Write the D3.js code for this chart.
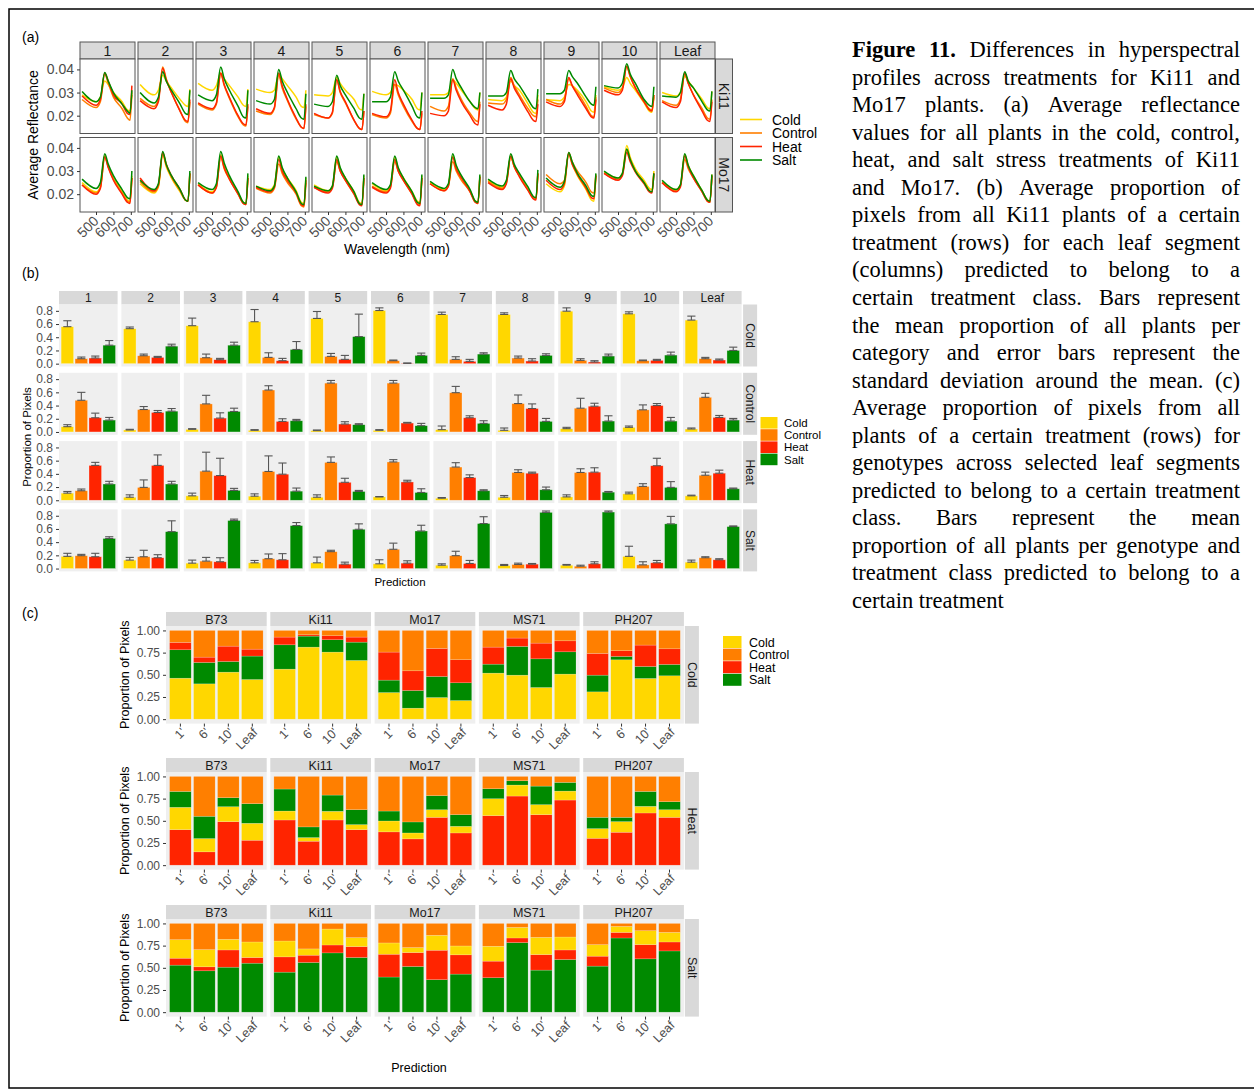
<!DOCTYPE html>
<html>
<head>
<meta charset="utf-8">
<script src="https://cdn.jsdelivr.net/npm/d3@7"></script>
<style>
  body { margin: 0; background: #fff; }
  svg { display: block; font-family: "Liberation Sans", Arial, Helvetica, sans-serif; }
</style>
</head>
<body>
<svg id="fig" width="1254" height="1090"></svg>
<script>
// ---- shared categories ----
const treatments = ['Cold', 'Control', 'Heat', 'Salt'];
const treatColors = { Cold: '#ffd700', Control: '#ff7f00', Heat: '#ff2400', Salt: '#008a00' };
const segmentsA = ['1', '2', '3', '4', '5', '6', '7', '8', '9', '10', 'Leaf'];
const genotypesA = ['Ki11', 'Mo17'];

// ---- (a) average reflectance, one row per segment, values at these wavelengths ----
const wavelengths = [420, 500, 525, 550, 570, 600, 650, 680, 695, 706];
const wlTicks = [500, 600, 700];
const reflTicks = [0.02, 0.03, 0.04];

const reflKi11Cold = [
  [0.029, 0.026, 0.028, 0.035, 0.0335, 0.030, 0.026, 0.0225, 0.022, 0.030],
  [0.0335, 0.029, 0.031, 0.0375, 0.035, 0.032, 0.027, 0.0245, 0.024, 0.0315],
  [0.034, 0.031, 0.033, 0.0385, 0.036, 0.033, 0.028, 0.0245, 0.024, 0.0315],
  [0.0315, 0.030, 0.031, 0.038, 0.036, 0.033, 0.028, 0.024, 0.0235, 0.031],
  [0.029, 0.0285, 0.030, 0.0365, 0.034, 0.031, 0.027, 0.023, 0.0225, 0.0295],
  [0.0305, 0.029, 0.030, 0.0335, 0.033, 0.031, 0.027, 0.023, 0.0225, 0.030],
  [0.029, 0.029, 0.030, 0.0355, 0.034, 0.031, 0.026, 0.023, 0.0225, 0.030],
  [0.027, 0.0265, 0.028, 0.035, 0.033, 0.031, 0.025, 0.0215, 0.021, 0.029],
  [0.027, 0.0265, 0.028, 0.0335, 0.033, 0.031, 0.026, 0.022, 0.0215, 0.029],
  [0.0325, 0.031, 0.032, 0.0365, 0.034, 0.031, 0.0255, 0.022, 0.0215, 0.028],
  [0.030, 0.0285, 0.030, 0.037, 0.035, 0.032, 0.027, 0.0235, 0.023, 0.0305]
];
const reflKi11Control = [
  [0.027, 0.0235, 0.026, 0.038, 0.034, 0.028, 0.023, 0.019, 0.018, 0.029],
  [0.0275, 0.024, 0.027, 0.041, 0.036, 0.030, 0.022, 0.0175, 0.017, 0.026],
  [0.025, 0.0225, 0.025, 0.038, 0.033, 0.0275, 0.0195, 0.016, 0.0155, 0.024],
  [0.022, 0.0205, 0.023, 0.0375, 0.032, 0.0265, 0.0185, 0.015, 0.0145, 0.024],
  [0.0205, 0.019, 0.021, 0.0355, 0.030, 0.0255, 0.018, 0.0145, 0.014, 0.022],
  [0.0205, 0.019, 0.021, 0.0335, 0.029, 0.024, 0.0175, 0.0145, 0.014, 0.021],
  [0.024, 0.022, 0.024, 0.036, 0.032, 0.027, 0.021, 0.018, 0.0175, 0.026],
  [0.0255, 0.025, 0.027, 0.0365, 0.033, 0.029, 0.023, 0.020, 0.0195, 0.027],
  [0.027, 0.025, 0.027, 0.036, 0.033, 0.030, 0.024, 0.020, 0.0195, 0.028],
  [0.032, 0.030, 0.032, 0.041, 0.037, 0.032, 0.026, 0.023, 0.0225, 0.029],
  [0.0265, 0.0245, 0.027, 0.038, 0.034, 0.029, 0.023, 0.019, 0.0185, 0.027]
];
const reflKi11Heat = [
  [0.0285, 0.0245, 0.027, 0.0385, 0.035, 0.029, 0.025, 0.021, 0.0205, 0.033],
  [0.0265, 0.023, 0.026, 0.0405, 0.0355, 0.030, 0.022, 0.018, 0.0175, 0.027],
  [0.0255, 0.023, 0.0255, 0.0385, 0.0335, 0.028, 0.020, 0.0165, 0.016, 0.025],
  [0.023, 0.021, 0.0235, 0.0385, 0.033, 0.027, 0.019, 0.015, 0.0145, 0.025],
  [0.021, 0.019, 0.0215, 0.0355, 0.0305, 0.026, 0.018, 0.0145, 0.014, 0.022],
  [0.021, 0.0195, 0.022, 0.0355, 0.030, 0.025, 0.018, 0.0145, 0.014, 0.022],
  [0.021, 0.020, 0.022, 0.0355, 0.031, 0.026, 0.020, 0.0165, 0.016, 0.025],
  [0.0245, 0.0225, 0.025, 0.036, 0.032, 0.028, 0.0215, 0.018, 0.0175, 0.025],
  [0.026, 0.024, 0.026, 0.0365, 0.033, 0.029, 0.023, 0.0195, 0.019, 0.027],
  [0.031, 0.029, 0.031, 0.0415, 0.037, 0.032, 0.026, 0.0225, 0.022, 0.029],
  [0.026, 0.0235, 0.026, 0.0385, 0.034, 0.029, 0.022, 0.018, 0.0175, 0.026]
];
const reflKi11Salt = [
  [0.0305, 0.026, 0.028, 0.0387, 0.035, 0.030, 0.025, 0.022, 0.021, 0.031],
  [0.030, 0.0255, 0.028, 0.039, 0.035, 0.031, 0.025, 0.021, 0.0205, 0.031],
  [0.029, 0.0265, 0.029, 0.041, 0.036, 0.031, 0.024, 0.0195, 0.019, 0.031],
  [0.0265, 0.025, 0.027, 0.040, 0.035, 0.030, 0.023, 0.019, 0.0185, 0.0295],
  [0.025, 0.024, 0.026, 0.0375, 0.033, 0.029, 0.023, 0.019, 0.0185, 0.0295],
  [0.026, 0.026, 0.028, 0.039, 0.035, 0.031, 0.024, 0.0195, 0.019, 0.030],
  [0.0275, 0.0275, 0.029, 0.040, 0.036, 0.032, 0.026, 0.0235, 0.023, 0.030],
  [0.0285, 0.0285, 0.030, 0.0395, 0.036, 0.033, 0.027, 0.0235, 0.023, 0.0315],
  [0.0295, 0.0295, 0.031, 0.0395, 0.037, 0.034, 0.028, 0.025, 0.0245, 0.0325],
  [0.033, 0.032, 0.034, 0.0425, 0.038, 0.034, 0.027, 0.0245, 0.024, 0.0325],
  [0.0285, 0.028, 0.030, 0.039, 0.035, 0.032, 0.026, 0.0225, 0.022, 0.0305]
];
const reflMo17Cold = [
  [0.025, 0.021, 0.023, 0.0365, 0.032, 0.027, 0.021, 0.0175, 0.017, 0.028],
  [0.0245, 0.0205, 0.023, 0.037, 0.032, 0.027, 0.021, 0.0175, 0.017, 0.029],
  [0.0245, 0.021, 0.0235, 0.037, 0.032, 0.027, 0.0205, 0.0165, 0.016, 0.028],
  [0.0235, 0.022, 0.024, 0.036, 0.031, 0.027, 0.0215, 0.0165, 0.016, 0.027],
  [0.024, 0.0215, 0.0235, 0.036, 0.031, 0.027, 0.021, 0.0165, 0.016, 0.028],
  [0.0245, 0.0215, 0.0235, 0.036, 0.031, 0.027, 0.021, 0.017, 0.0165, 0.028],
  [0.025, 0.022, 0.024, 0.0365, 0.032, 0.0275, 0.0215, 0.017, 0.0165, 0.028],
  [0.026, 0.023, 0.0255, 0.0365, 0.032, 0.028, 0.022, 0.0185, 0.018, 0.029],
  [0.0245, 0.021, 0.0235, 0.0375, 0.033, 0.028, 0.022, 0.0175, 0.017, 0.028],
  [0.0295, 0.027, 0.029, 0.041, 0.036, 0.031, 0.026, 0.0225, 0.022, 0.030],
  [0.0255, 0.022, 0.024, 0.037, 0.0325, 0.028, 0.0215, 0.0175, 0.017, 0.0285]
];
const reflMo17Control = [
  [0.024, 0.0205, 0.023, 0.0365, 0.032, 0.0265, 0.0205, 0.017, 0.0165, 0.027],
  [0.0255, 0.021, 0.0235, 0.0375, 0.0325, 0.0275, 0.0215, 0.0175, 0.017, 0.029],
  [0.024, 0.0205, 0.023, 0.036, 0.031, 0.0265, 0.020, 0.016, 0.0155, 0.027],
  [0.0225, 0.0205, 0.0225, 0.033, 0.029, 0.025, 0.020, 0.015, 0.0145, 0.025],
  [0.023, 0.021, 0.023, 0.034, 0.030, 0.026, 0.020, 0.016, 0.0155, 0.027],
  [0.0235, 0.021, 0.023, 0.034, 0.030, 0.026, 0.020, 0.016, 0.0155, 0.027],
  [0.0245, 0.0215, 0.0235, 0.034, 0.030, 0.026, 0.021, 0.0165, 0.016, 0.0275],
  [0.0255, 0.0225, 0.025, 0.036, 0.032, 0.028, 0.022, 0.0185, 0.018, 0.029],
  [0.0285, 0.0245, 0.026, 0.038, 0.034, 0.030, 0.025, 0.021, 0.0205, 0.0285],
  [0.029, 0.0265, 0.0285, 0.039, 0.035, 0.030, 0.025, 0.0215, 0.021, 0.029],
  [0.025, 0.0215, 0.0235, 0.035, 0.031, 0.027, 0.021, 0.017, 0.0165, 0.028]
];
const reflMo17Heat = [
  [0.024, 0.020, 0.0225, 0.036, 0.0315, 0.026, 0.020, 0.0165, 0.016, 0.027],
  [0.027, 0.0215, 0.024, 0.038, 0.033, 0.028, 0.022, 0.0175, 0.017, 0.029],
  [0.024, 0.0205, 0.023, 0.0365, 0.0315, 0.0265, 0.020, 0.016, 0.0155, 0.027],
  [0.023, 0.021, 0.023, 0.035, 0.030, 0.026, 0.0205, 0.0155, 0.015, 0.026],
  [0.023, 0.0205, 0.0225, 0.035, 0.030, 0.026, 0.020, 0.0155, 0.015, 0.027],
  [0.023, 0.0205, 0.0225, 0.035, 0.030, 0.026, 0.020, 0.0155, 0.015, 0.027],
  [0.0245, 0.0215, 0.0235, 0.036, 0.031, 0.027, 0.021, 0.0165, 0.016, 0.0275],
  [0.025, 0.022, 0.0245, 0.0365, 0.032, 0.0275, 0.0215, 0.018, 0.0175, 0.029],
  [0.026, 0.022, 0.0245, 0.0375, 0.033, 0.0285, 0.0225, 0.0185, 0.018, 0.028],
  [0.029, 0.026, 0.028, 0.038, 0.034, 0.0295, 0.0245, 0.021, 0.0205, 0.029],
  [0.025, 0.021, 0.023, 0.0365, 0.032, 0.027, 0.021, 0.017, 0.0165, 0.028]
];
const reflMo17Salt = [
  [0.0265, 0.0225, 0.025, 0.0375, 0.033, 0.028, 0.022, 0.0185, 0.018, 0.030],
  [0.026, 0.022, 0.0245, 0.0385, 0.033, 0.028, 0.022, 0.0175, 0.017, 0.030],
  [0.025, 0.022, 0.0245, 0.0385, 0.0335, 0.028, 0.021, 0.0165, 0.016, 0.029],
  [0.0235, 0.0215, 0.0235, 0.0365, 0.0315, 0.027, 0.021, 0.016, 0.0155, 0.0275],
  [0.0235, 0.0215, 0.0235, 0.0365, 0.0315, 0.027, 0.021, 0.016, 0.0155, 0.0285],
  [0.025, 0.022, 0.024, 0.0365, 0.0315, 0.027, 0.021, 0.0165, 0.016, 0.0285],
  [0.0255, 0.0225, 0.0245, 0.0375, 0.0325, 0.028, 0.022, 0.017, 0.0165, 0.0285],
  [0.0265, 0.0235, 0.026, 0.0375, 0.033, 0.029, 0.023, 0.019, 0.0185, 0.0305],
  [0.027, 0.023, 0.0255, 0.038, 0.034, 0.029, 0.0235, 0.0195, 0.019, 0.029],
  [0.030, 0.027, 0.029, 0.0395, 0.035, 0.030, 0.025, 0.0215, 0.021, 0.029],
  [0.026, 0.022, 0.024, 0.0375, 0.0325, 0.028, 0.0215, 0.0175, 0.017, 0.0285]
];

// ---- (b) Ki11 mean proportion predicted [Cold, Control, Heat, Salt] per segment ----
const propTicksB = [0, 0.2, 0.4, 0.6, 0.8];
const predMeanCold = [
  [0.56, 0.075, 0.085, 0.28], [0.53, 0.12, 0.095, 0.265], [0.575, 0.09, 0.06, 0.28],
  [0.635, 0.095, 0.045, 0.215], [0.685, 0.11, 0.065, 0.41], [0.805, 0.045, 0.005, 0.125],
  [0.745, 0.065, 0.035, 0.145], [0.745, 0.085, 0.04, 0.125], [0.795, 0.05, 0.025, 0.115],
  [0.755, 0.045, 0.05, 0.13], [0.66, 0.075, 0.055, 0.20]
];
const predSdCold = [
  [0.09, 0.025, 0.03, 0.07], [0.025, 0.025, 0.015, 0.03], [0.115, 0.055, 0.02, 0.045],
  [0.185, 0.07, 0.035, 0.12], [0.105, 0.045, 0.06, 0.34], [0.04, 0.01, 0.005, 0.035],
  [0.035, 0.04, 0.03, 0.02], [0.025, 0.03, 0.035, 0.025], [0.05, 0.025, 0.02, 0.03],
  [0.03, 0.01, 0.015, 0.045], [0.06, 0.02, 0.015, 0.05]
];
const predMeanControl = [
  [0.08, 0.48, 0.215, 0.18], [0.03, 0.34, 0.295, 0.315], [0.04, 0.425, 0.21, 0.31],
  [0.025, 0.635, 0.16, 0.17], [0.02, 0.74, 0.12, 0.11], [0.025, 0.74, 0.135, 0.095],
  [0.035, 0.595, 0.215, 0.13], [0.025, 0.43, 0.355, 0.16], [0.05, 0.36, 0.39, 0.165],
  [0.07, 0.335, 0.40, 0.165], [0.045, 0.525, 0.22, 0.18]
];
const predSdControl = [
  [0.03, 0.12, 0.07, 0.04], [0.01, 0.045, 0.03, 0.04], [0.01, 0.13, 0.08, 0.05],
  [0.01, 0.065, 0.04, 0.02], [0.01, 0.04, 0.035, 0.015], [0.01, 0.04, 0.01, 0.035],
  [0.055, 0.095, 0.03, 0.04], [0.035, 0.13, 0.07, 0.045], [0.02, 0.15, 0.045, 0.08],
  [0.02, 0.075, 0.03, 0.055], [0.015, 0.06, 0.03, 0.025]
];
const predMeanHeat = [
  [0.108, 0.144, 0.528, 0.246], [0.046, 0.195, 0.528, 0.246], [0.067, 0.441, 0.374, 0.149],
  [0.062, 0.436, 0.395, 0.138], [0.046, 0.574, 0.272, 0.133], [0.051, 0.58, 0.277, 0.118],
  [0.031, 0.503, 0.344, 0.144], [0.046, 0.421, 0.41, 0.159], [0.051, 0.421, 0.426, 0.123],
  [0.097, 0.21, 0.523, 0.195], [0.067, 0.379, 0.41, 0.174]
];
const predSdHeat = [
  [0.025, 0.026, 0.046, 0.041], [0.036, 0.113, 0.159, 0.041], [0.041, 0.287, 0.262, 0.031],
  [0.035, 0.236, 0.169, 0.047], [0.036, 0.082, 0.061, 0.016], [0.005, 0.035, 0.026, 0.056],
  [0.01, 0.066, 0.041, 0.015], [0.026, 0.041, 0.016, 0.041], [0.031, 0.056, 0.066, 0.01],
  [0.026, 0.041, 0.113, 0.087], [0.01, 0.047, 0.046, 0.011]
];
const predMeanSalt = [
  [0.185, 0.195, 0.179, 0.456], [0.128, 0.179, 0.164, 0.559], [0.082, 0.113, 0.103, 0.728],
  [0.087, 0.149, 0.133, 0.651], [0.087, 0.256, 0.067, 0.595], [0.072, 0.292, 0.082, 0.569],
  [0.051, 0.195, 0.077, 0.682], [0.046, 0.062, 0.067, 0.851], [0.051, 0.036, 0.072, 0.856],
  [0.185, 0.056, 0.087, 0.677], [0.097, 0.164, 0.133, 0.636]
];
const predSdSalt = [
  [0.046, 0.02, 0.052, 0.026], [0.041, 0.098, 0.046, 0.164], [0.046, 0.056, 0.061, 0.021],
  [0.036, 0.072, 0.093, 0.046], [0.087, 0.021, 0.03, 0.082], [0.061, 0.093, 0.036, 0.087],
  [0.021, 0.067, 0.046, 0.103], [0.016, 0.02, 0.01, 0.021], [0.011, 0.015, 0.031, 0.016],
  [0.153, 0.047, 0.036, 0.113], [0.031, 0.015, 0.016, 0.01]
];

// ---- (c) stacked proportions per genotype, 4 segments each, in stack order ----
const genotypesC = ['B73', 'Ki11', 'Mo17', 'MS71', 'PH207'];
const segmentsC = ["1'", "6'", "10'", 'Leaf'];
const propTicksC = [0, 0.25, 0.5, 0.75, 1];
const stackOrderCold = ['Cold', 'Salt', 'Heat', 'Control'];
const stackOrderHeat = ['Heat', 'Cold', 'Salt', 'Control'];
const stackOrderSalt = ['Salt', 'Heat', 'Cold', 'Control'];
const propCold = [
  [[0.462, 0.32, 0.083, 0.135], [0.398, 0.241, 0.06, 0.301], [0.53, 0.12, 0.173, 0.177], [0.447, 0.264, 0.078, 0.211]],
  [[0.564, 0.274, 0.087, 0.075], [0.812, 0.124, 0.015, 0.049], [0.756, 0.139, 0.045, 0.06], [0.662, 0.206, 0.057, 0.075]],
  [[0.30, 0.14, 0.316, 0.244], [0.124, 0.199, 0.222, 0.455], [0.244, 0.237, 0.316, 0.203], [0.21, 0.20, 0.26, 0.33]],
  [[0.519, 0.101, 0.192, 0.188], [0.496, 0.324, 0.094, 0.086], [0.357, 0.323, 0.177, 0.143], [0.508, 0.251, 0.124, 0.117]],
  [[0.308, 0.188, 0.245, 0.259], [0.669, 0.038, 0.064, 0.229], [0.459, 0.135, 0.241, 0.165], [0.489, 0.128, 0.176, 0.207]]
];
const propHeat = [
  [[0.40, 0.252, 0.179, 0.169], [0.15, 0.15, 0.251, 0.449], [0.49, 0.169, 0.101, 0.24], [0.281, 0.191, 0.221, 0.307]],
  [[0.509, 0.101, 0.248, 0.142], [0.27, 0.041, 0.12, 0.569], [0.509, 0.098, 0.183, 0.21], [0.40, 0.057, 0.168, 0.375]],
  [[0.375, 0.123, 0.112, 0.39], [0.296, 0.067, 0.124, 0.513], [0.539, 0.086, 0.158, 0.217], [0.363, 0.075, 0.131, 0.431]],
  [[0.558, 0.191, 0.112, 0.139], [0.779, 0.124, 0.048, 0.049], [0.569, 0.113, 0.209, 0.109], [0.734, 0.101, 0.098, 0.067]],
  [[0.303, 0.109, 0.127, 0.461], [0.371, 0.12, 0.048, 0.461], [0.588, 0.075, 0.168, 0.169], [0.539, 0.086, 0.09, 0.285]]
];
const propSalt = [
  [[0.53, 0.078, 0.209, 0.183], [0.466, 0.045, 0.194, 0.295], [0.507, 0.194, 0.12, 0.179], [0.552, 0.064, 0.175, 0.209]],
  [[0.451, 0.172, 0.179, 0.198], [0.56, 0.082, 0.071, 0.287], [0.668, 0.089, 0.18, 0.063], [0.616, 0.123, 0.101, 0.16]],
  [[0.396, 0.257, 0.127, 0.22], [0.515, 0.157, 0.056, 0.272], [0.366, 0.332, 0.168, 0.134], [0.429, 0.217, 0.10, 0.254]],
  [[0.388, 0.187, 0.168, 0.257], [0.784, 0.052, 0.119, 0.045], [0.474, 0.175, 0.194, 0.157], [0.593, 0.108, 0.146, 0.153]],
  [[0.519, 0.112, 0.13, 0.239], [0.836, 0.063, 0.067, 0.034], [0.601, 0.16, 0.157, 0.082], [0.69, 0.101, 0.108, 0.101]]
];

// ---- caption ----
const captionLines = [
  'Figure 11. Differences in hyperspectral',
  'profiles across treatments for Ki11 and',
  'Mo17 plants. (a) Average reflectance',
  'values for all plants in the cold, control,',
  'heat, and salt stress treatments of Ki11',
  'and Mo17. (b) Average proportion of',
  'pixels from all Ki11 plants of a certain',
  'treatment (rows) for each leaf segment',
  '(columns) predicted to belong to a',
  'certain treatment class. Bars represent',
  'the mean proportion of all plants per',
  'category and error bars represent the',
  'standard deviation around the mean. (c)',
  'Average proportion of pixels from all',
  'plants of a certain treatment (rows) for',
  'genotypes across selected leaf segments',
  'predicted to belong to a certain treatment',
  'class. Bars represent the mean',
  'proportion of all plants per genotype and',
  'treatment class predicted to belong to a',
  'certain treatment'
];

const svg = d3.select('#fig');
const STRIP_FILL = '#d9d9d9';
const PANEL_FILL = '#efefef';
const TICK_TEXT = '#4d4d4d';

svg.append('rect')
  .attr('x', 9).attr('y', 9).attr('width', 1300).attr('height', 1079)
  .attr('fill', 'none').attr('stroke', '#000').attr('stroke-width', 1.5);

function label(x, y, text, size, opts = {}) {
  const t = svg.append('text')
    .attr('x', x).attr('y', y)
    .attr('font-size', size)
    .attr('fill', opts.fill || '#000')
    .attr('text-anchor', opts.anchor || 'start')
    .text(text);
  if (opts.rotate) t.attr('transform', `rotate(${opts.rotate},${x},${y})`);
  if (opts.baseline) t.attr('dominant-baseline', opts.baseline);
  return t;
}

// ======================= (a) =======================
function drawPanelA() {
  const left = 80, colStep = 58, pw = 55, ph = 74.5;
  const rowTop = [59, 137.5];
  const stripTop = 42, stripH = 17;
  const refl = {
    Ki11: { Cold: reflKi11Cold, Control: reflKi11Control, Heat: reflKi11Heat, Salt: reflKi11Salt },
    Mo17: { Cold: reflMo17Cold, Control: reflMo17Control, Heat: reflMo17Heat, Salt: reflMo17Salt }
  };
  const x = d3.scaleLinear().domain([408, 724]).range([0, pw]);
  const y = d3.scaleLinear().domain([0.0123, 0.0445]).range([ph, 0]);
  const line = d3.line()
    .x((d, i) => x(wavelengths[i]))
    .y(d => y(d))
    .curve(d3.curveMonotoneX);

  label(22, 42, '(a)', 14);

  segmentsA.forEach((seg, c) => {
    const px = left + c * colStep;
    svg.append('rect').attr('x', px).attr('y', stripTop).attr('width', pw).attr('height', stripH)
      .attr('fill', STRIP_FILL).attr('stroke', '#555').attr('stroke-width', 1);
    label(px + pw / 2, stripTop + stripH / 2 + 5, seg, 14, { anchor: 'middle', fill: '#1a1a1a' });

    genotypesA.forEach((geno, r) => {
      const g = svg.append('g').attr('transform', `translate(${px},${rowTop[r]})`);
      g.append('rect').attr('width', pw).attr('height', ph).attr('fill', '#fff');
      treatments.forEach(t => {
        g.append('path')
          .datum(refl[geno][t][c])
          .attr('d', line)
          .attr('fill', 'none')
          .attr('stroke', treatColors[t])
          .attr('stroke-width', 1.5);
      });
      g.append('rect').attr('width', pw).attr('height', ph)
        .attr('fill', 'none').attr('stroke', '#555').attr('stroke-width', 1);

      if (r === genotypesA.length - 1) {
        const ax = g.append('g').attr('transform', `translate(0,${ph})`)
          .call(d3.axisBottom(x).tickValues(wlTicks).tickSize(3).tickFormat(''));
        ax.select('.domain').remove();
        ax.selectAll('line').attr('stroke', '#333');
        wlTicks.forEach(w => {
          const tx = px + x(w) + 3.5, ty = rowTop[r] + ph + 10;
          label(tx, ty, String(w), 14, { anchor: 'end', rotate: -45, fill: TICK_TEXT });
        });
      }
      if (c === 0) {
        const ay = g.append('g').call(d3.axisLeft(y).tickValues(reflTicks).tickSize(3).tickFormat(d3.format('.2f')));
        ay.select('.domain').remove();
        ay.selectAll('line').attr('stroke', '#333');
        ay.selectAll('text').attr('font-size', 14).attr('fill', TICK_TEXT)
          .attr('font-family', '"Liberation Sans", Arial, sans-serif');
      }
    });
  });

  // row strips
  const sx = left + (segmentsA.length - 1) * colStep + pw + 0.5;
  genotypesA.forEach((geno, r) => {
    svg.append('rect').attr('x', sx).attr('y', rowTop[r]).attr('width', 17).attr('height', ph)
      .attr('fill', STRIP_FILL).attr('stroke', '#555').attr('stroke-width', 1);
    label(sx + 8.5, rowTop[r] + ph / 2, geno, 14,
      { anchor: 'middle', rotate: 90, baseline: 'central', fill: '#1a1a1a' });
  });

  label(33, 135, 'Average Reflectance', 14, { anchor: 'middle', rotate: -90, baseline: 'central' });
  label(397, 254, 'Wavelength (nm)', 14, { anchor: 'middle' });

  // legend
  treatments.forEach((t, i) => {
    const ly = 119.5 + i * 13.5;
    svg.append('line').attr('x1', 740).attr('x2', 762).attr('y1', ly).attr('y2', ly)
      .attr('stroke', treatColors[t]).attr('stroke-width', 1.6);
    label(772, ly + 5, t, 14);
  });
}

// ======================= (b) =======================
function drawPanelB() {
  const left = 59, colStep = 62.4, pw = 58.6, ph = 62;
  const top = 304.5, rowStep = 68.3, stripH = 13.5;
  const means = { Cold: predMeanCold, Control: predMeanControl, Heat: predMeanHeat, Salt: predMeanSalt };
  const sds = { Cold: predSdCold, Control: predSdControl, Heat: predSdHeat, Salt: predSdSalt };
  const x = d3.scaleBand().domain(treatments).range([0, pw]).paddingInner(0.1).paddingOuter(0.15);
  const y = d3.scaleLinear().domain([-0.043, 0.896]).range([ph, 0]);
  const bw = x.bandwidth();
  const capW = bw * 0.65;

  label(22, 278, '(b)', 14);

  segmentsA.forEach((seg, c) => {
    const px = left + c * colStep;
    svg.append('rect').attr('x', px).attr('y', top - stripH).attr('width', pw).attr('height', stripH)
      .attr('fill', STRIP_FILL);
    label(px + pw / 2, top - stripH / 2 + 4, seg, 12, { anchor: 'middle', fill: '#1a1a1a' });

    treatments.forEach((rowT, r) => {
      const g = svg.append('g').attr('transform', `translate(${px},${top + r * rowStep})`);
      g.append('rect').attr('width', pw).attr('height', ph).attr('fill', PANEL_FILL);
      const rows = treatments.map((t, k) => ({ t, mean: means[rowT][c][k], sd: sds[rowT][c][k] }));
      g.selectAll('rect.bar').data(rows).join('rect')
        .attr('class', 'bar')
        .attr('x', d => x(d.t)).attr('width', bw)
        .attr('y', d => y(d.mean)).attr('height', d => y(0) - y(d.mean))
        .attr('fill', d => treatColors[d.t])
        .attr('stroke', '#ffffff').attr('stroke-opacity', 0.5).attr('stroke-width', 0.6);
      const eb = g.selectAll('g.err').data(rows).join('g').attr('class', 'err')
        .attr('stroke', '#555').attr('stroke-width', 1.1);
      eb.append('line')
        .attr('x1', d => x(d.t) + bw / 2).attr('x2', d => x(d.t) + bw / 2)
        .attr('y1', d => y(d.mean)).attr('y2', d => y(d.mean + d.sd));
      eb.append('line')
        .attr('x1', d => x(d.t) + bw / 2 - capW / 2).attr('x2', d => x(d.t) + bw / 2 + capW / 2)
        .attr('y1', d => y(d.mean + d.sd)).attr('y2', d => y(d.mean + d.sd));
      eb.append('line')
        .attr('x1', d => x(d.t) + bw / 2 - capW / 2).attr('x2', d => x(d.t) + bw / 2 + capW / 2)
        .attr('y1', d => y(d.mean)).attr('y2', d => y(d.mean));

      if (c === 0) {
        const ay = g.append('g').call(d3.axisLeft(y).tickValues(propTicksB).tickSize(3).tickFormat(d3.format('.1f')));
        ay.select('.domain').remove();
        ay.selectAll('line').attr('stroke', '#333');
        ay.selectAll('text').attr('font-size', 12).attr('fill', TICK_TEXT)
          .attr('font-family', '"Liberation Sans", Arial, sans-serif');
      }
    });
  });

  const sx = left + (segmentsA.length - 1) * colStep + pw + 1.5;
  treatments.forEach((t, r) => {
    const ry = top + r * rowStep;
    svg.append('rect').attr('x', sx).attr('y', ry).attr('width', 14).attr('height', ph).attr('fill', STRIP_FILL);
    label(sx + 7, ry + ph / 2, t, 12, { anchor: 'middle', rotate: 90, baseline: 'central', fill: '#1a1a1a' });
  });

  label(27, 437, 'Proportion of Pixels', 11.5, { anchor: 'middle', rotate: -90, baseline: 'central' });
  label(400, 586, 'Prediction', 11.5, { anchor: 'middle' });

  treatments.forEach((t, i) => {
    const ky = 417 + i * 12.2;
    svg.append('rect').attr('x', 760.5).attr('y', ky).attr('width', 17).attr('height', 11.6)
      .attr('fill', treatColors[t]);
    label(784, ky + 10, t, 11.5);
  });
}

// ======================= (c) =======================
function drawPanelC() {
  const left = 166, colStep = 104.3, pw = 100.7, ph = 97.6, stripH = 14;
  const rowsC = [
    { name: 'Cold', top: 612, order: stackOrderCold, data: propCold },
    { name: 'Heat', top: 758, order: stackOrderHeat, data: propHeat },
    { name: 'Salt', top: 905, order: stackOrderSalt, data: propSalt }
  ];
  const x = d3.scaleBand().domain(segmentsC).range([0, pw]).paddingInner(0.1).paddingOuter(0.15);
  const y = d3.scaleLinear().domain([-0.05, 1.05]).range([ph, 0]);
  const bw = x.bandwidth();

  label(22, 618, '(c)', 14);

  rowsC.forEach(row => {
    const pTop = row.top + stripH;
    const stack = d3.stack().keys(row.order);
    genotypesC.forEach((geno, c) => {
      const px = left + c * colStep;
      svg.append('rect').attr('x', px).attr('y', row.top).attr('width', pw).attr('height', stripH)
        .attr('fill', STRIP_FILL);
      label(px + pw / 2, row.top + stripH / 2 + 4.5, geno, 12.5, { anchor: 'middle', fill: '#1a1a1a' });

      const g = svg.append('g').attr('transform', `translate(${px},${pTop})`);
      g.append('rect').attr('width', pw).attr('height', ph).attr('fill', PANEL_FILL);
      const table = segmentsC.map((s, k) => {
        const o = { seg: s };
        row.order.forEach((t, j) => { o[t] = row.data[c][k][j]; });
        return o;
      });
      const series = stack(table);
      g.selectAll('g.layer').data(series).join('g').attr('class', 'layer')
        .attr('fill', d => treatColors[d.key])
        .selectAll('rect').data(d => d).join('rect')
        .attr('x', d => x(d.data.seg)).attr('width', bw)
        .attr('y', d => y(d[1])).attr('height', d => y(d[0]) - y(d[1]))
        .attr('stroke', '#ffffff').attr('stroke-opacity', 0.35).attr('stroke-width', 0.5);

      const ax = g.append('g').attr('transform', `translate(0,${ph})`)
        .call(d3.axisBottom(x).tickSize(3).tickFormat(''));
      ax.select('.domain').remove();
      ax.selectAll('line').attr('stroke', '#333');
      segmentsC.forEach(s => {
        const tx = px + x(s) + bw / 2 + 6, ty = pTop + ph + 9.5;
        label(tx, ty, s, 12.5, { anchor: 'end', rotate: -45, fill: TICK_TEXT });
      });

      if (c === 0) {
        const ay = g.append('g').call(d3.axisLeft(y).tickValues(propTicksC).tickSize(3).tickFormat(d3.format('.2f')));
        ay.select('.domain').remove();
        ay.selectAll('line').attr('stroke', '#333');
        ay.selectAll('text').attr('font-size', 12).attr('fill', TICK_TEXT)
          .attr('font-family', '"Liberation Sans", Arial, sans-serif');
      }
    });
    const sx = left + (genotypesC.length - 1) * colStep + pw + 1;
    svg.append('rect').attr('x', sx).attr('y', pTop).attr('width', 14).attr('height', ph).attr('fill', STRIP_FILL);
    label(sx + 7, pTop + ph / 2, row.name, 12.5, { anchor: 'middle', rotate: 90, baseline: 'central', fill: '#1a1a1a' });
    label(125, pTop + ph / 2, 'Proportion of Pixels', 12.5, { anchor: 'middle', rotate: -90, baseline: 'central' });
  });

  label(419, 1072, 'Prediction', 12.5, { anchor: 'middle' });

  treatments.forEach((t, i) => {
    const ky = 636 + i * 12.6;
    svg.append('rect').attr('x', 723).attr('y', ky).attr('width', 18.5).attr('height', 12)
      .attr('fill', treatColors[t]);
    label(749, ky + 10.5, t, 12.5);
  });
}

// ======================= caption =======================
function drawCaption() {
  const capX = 852, capW = 388, y0 = 57, lh = 27.55;
  const g = svg.append('g')
    .attr('font-family', '"Liberation Serif", "Times New Roman", serif')
    .attr('font-size', 22.5);
  captionLines.forEach((ln, i) => {
    const words = ln.split(' ');
    const nodes = words.map((w, k) => g.append('text')
      .attr('y', y0 + i * lh)
      .attr('font-weight', i === 0 && k < 2 ? 'bold' : 'normal')
      .text(w));
    const widths = nodes.map(n => n.node().getComputedTextLength());
    const total = d3.sum(widths);
    const last = i === captionLines.length - 1;
    const gap = last || words.length < 2 ? 5.6 : Math.max(3, (capW - total) / (words.length - 1));
    let cx = capX;
    nodes.forEach((n, k) => { n.attr('x', cx); cx += widths[k] + gap; });
  });
}

drawPanelA();
drawPanelB();
drawPanelC();
drawCaption();
</script>
</body>
</html>
